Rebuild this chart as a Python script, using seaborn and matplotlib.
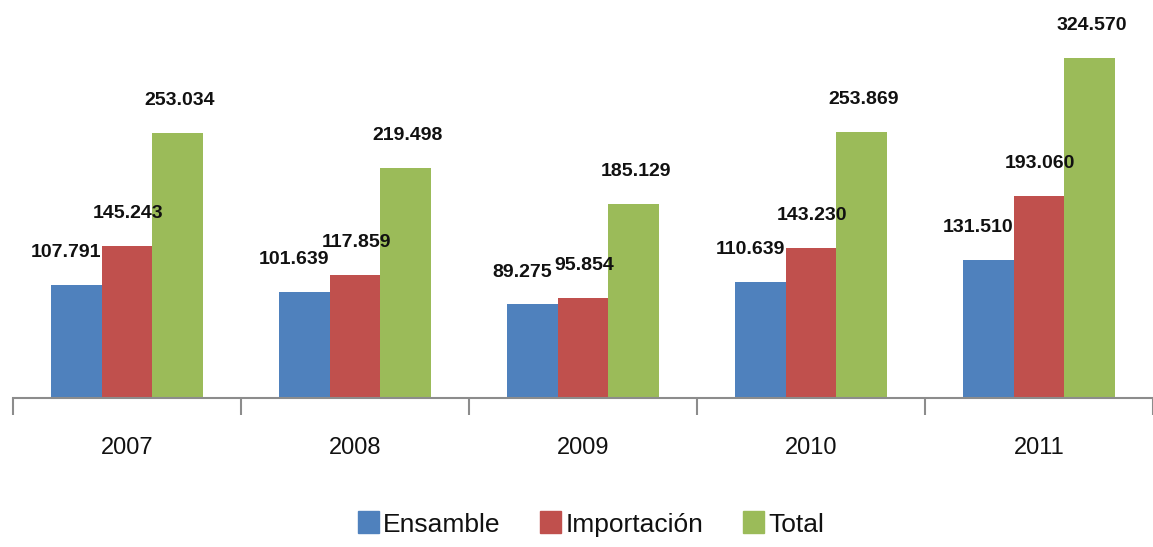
import matplotlib
matplotlib.use('Agg')
import matplotlib.pyplot as plt
import numpy as np
import pandas as pd
import seaborn as sns

years = ['2007', '2008', '2009', '2010', '2011']
series = ['Ensamble', 'Importación', 'Total']
ensamble = [107.791, 101.639, 89.275, 110.639, 131.510]
importacion = [145.243, 117.859, 95.854, 143.230, 193.060]
total = [253.034, 219.498, 185.129, 253.869, 324.570]
colors = ['#4F81BD', '#C0504D', '#9BBB59']

df = pd.DataFrame({
  'year': years * 3,
  'serie': [s for s in series for _ in years],
  'value': ensamble + importacion + total,
})

sns.set_theme(style='white')
plt.rcParams['font.family'] = ['Liberation Sans', 'DejaVu Sans']

fig = plt.figure(figsize=(11.53, 5.47), dpi=100)
ax = fig.add_axes([13 / 1153, 149 / 547, 1140 / 1153, 398 / 547])

sns.barplot(data=df, x='year', y='value', hue='serie', palette=colors,
            width=0.665, gap=0, saturation=1, legend=False, linewidth=0, ax=ax)

ax.set_xlim(-0.5, 4.5)
ax.set_ylim(0, 380)

# value labels, blue ones nudged left like the original
offsets = {0: -0.045, 1: 0.005, 2: 0.01}
for k, cont in enumerate(ax.containers):
  for bar in cont:
    h = bar.get_height()
    x = bar.get_x() + bar.get_width() / 2 + offsets[k]
    ax.text(x, h + 31, f'{h:.3f}', ha='center', va='center', fontsize=14,
            fontweight='bold', color='#111111')

for s in ['top', 'right', 'left']:
  ax.spines[s].set_visible(False)
ax.spines['bottom'].set_color('#8c8c8c')
ax.spines['bottom'].set_linewidth(1.5)
ax.set_yticks([])
ax.set_xlabel('')
ax.set_ylabel('')
ax.set_xticks(range(len(years)))
ax.set_xticklabels(years, fontsize=17, color='#111111')
ax.set_xticks(np.arange(-0.5, 5, 1), minor=True)
ax.tick_params(axis='x', which='major', length=0, pad=28)
ax.tick_params(axis='x', which='minor', length=12, width=1.5, color='#8c8c8c', bottom=True)

handles = [plt.Rectangle((0, 0), 1, 1, color=c) for c in colors]
fig.legend(handles, series, loc='center', bbox_to_anchor=(591 / 1153, 23 / 547), ncol=3,
           frameon=False, fontsize=19, handlelength=0.8, handleheight=0.9,
           handletextpad=0.15, columnspacing=1.5, labelcolor='#111111')

fig.savefig('out.png', dpi=100)
